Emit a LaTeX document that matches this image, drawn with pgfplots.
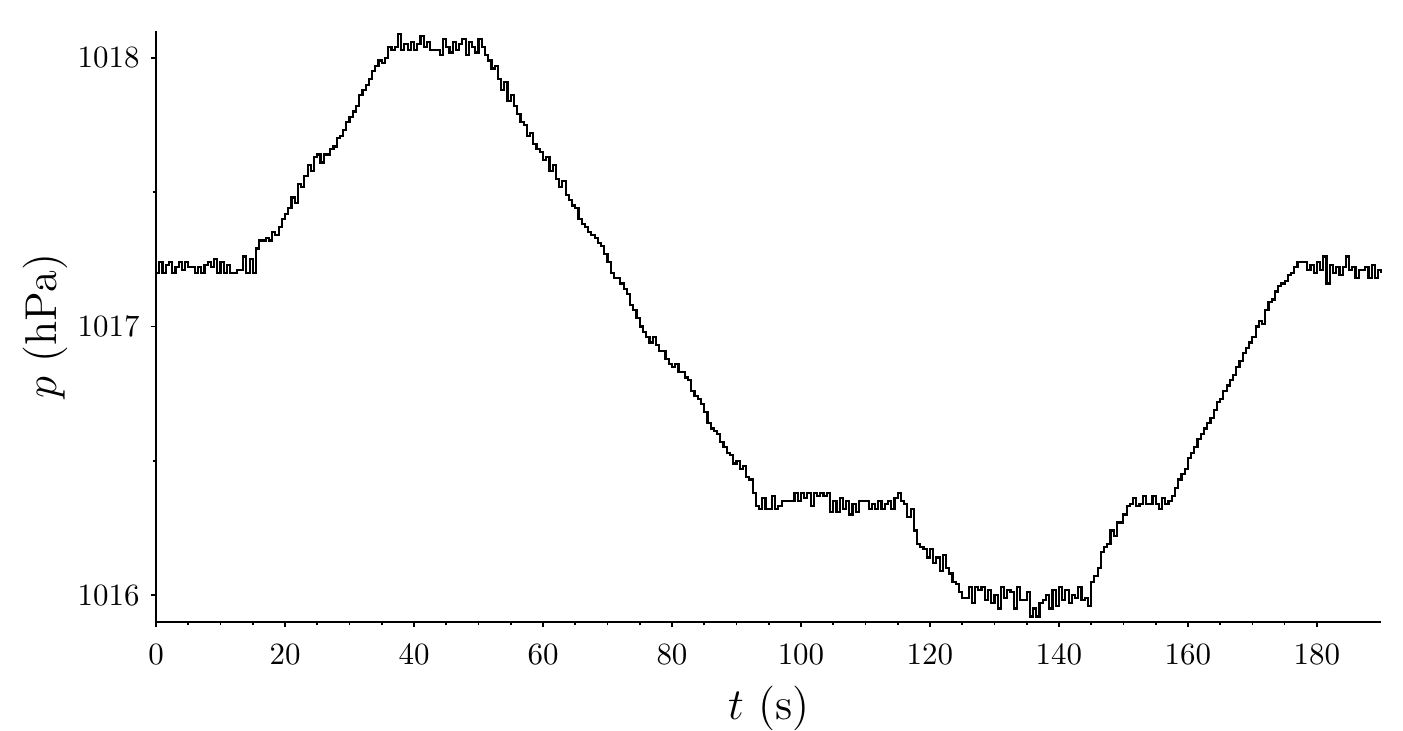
\documentclass[border=0pt]{standalone}
\usepackage{pgfplots}
\pgfplotsset{compat=1.18}
\begin{document}
\begin{tikzpicture}
\begin{axis}[
  scale only axis,
  width=396pt, height=191pt,
  xmin=0, xmax=190, ymin=1015.9, ymax=1018.1,
  axis x line*=bottom, axis y line*=left,
  axis line style={line width=0.55pt},
  tick align=outside,
  major tick length=1.8pt, minor tick length=1.1pt,
  every tick/.style={line width=0.55pt, black},
  xtick={0,20,...,180}, ytick={1016,1017,1018},
  minor x tick num=3, minor y tick num=1,
  yticklabel style={/pgf/number format/.cd, set thousands separator={}, fixed, precision=0},
  xticklabel style={yshift=-2pt},
  xlabel={\Large $t$ (s)}, ylabel={\Large $p$ (hPa)},
  xlabel style={inner sep=0pt, yshift=-3.3pt}, ylabel style={yshift=-3.5pt},
  clip=false,
]
\addplot[const plot, black, line width=0.7pt] coordinates {
(0,1017.20)(0.5,1017.24)(1.0,1017.20)(1.5,1017.23)(2.0,1017.24)(2.5,1017.20)(3.0,1017.22)(3.5,1017.24)(4.0,1017.21)(4.5,1017.24)
(5.0,1017.22)(5.5,1017.22)(6.0,1017.20)(6.5,1017.22)(7.0,1017.20)(7.5,1017.23)(8.0,1017.24)(8.5,1017.22)(9.0,1017.25)(9.5,1017.20)
(10.0,1017.24)(10.5,1017.20)(11.0,1017.23)(11.5,1017.20)(12.0,1017.20)(12.5,1017.21)(13.0,1017.21)(13.5,1017.26)(14.0,1017.20)(14.5,1017.25)
(15.0,1017.20)(15.5,1017.29)(16.0,1017.32)(16.5,1017.32)(17.0,1017.33)(17.5,1017.32)(18.0,1017.35)(18.5,1017.34)(19.0,1017.37)(19.5,1017.40)
(20.0,1017.42)(20.5,1017.44)(21.0,1017.48)(21.5,1017.46)(22.0,1017.53)(22.5,1017.52)(23.0,1017.56)(23.5,1017.60)(24.0,1017.58)(24.5,1017.63)
(25.0,1017.64)(25.5,1017.61)(26.0,1017.64)(26.5,1017.64)(27.0,1017.66)(27.5,1017.67)(28.0,1017.70)(28.5,1017.71)(29.0,1017.73)(29.5,1017.76)
(30.0,1017.78)(30.5,1017.80)(31.0,1017.82)(31.5,1017.86)(32.0,1017.88)(32.5,1017.90)(33.0,1017.92)(33.5,1017.95)(34.0,1017.97)(34.5,1017.99)
(35.0,1017.98)(35.5,1018.00)(36.0,1018.04)(36.5,1018.03)(37.0,1018.04)(37.5,1018.09)(38.0,1018.03)(38.5,1018.05)(39.0,1018.03)(39.5,1018.06)
(40.0,1018.03)(40.5,1018.05)(41.0,1018.08)(41.5,1018.04)(42.0,1018.06)(42.5,1018.03)(43.0,1018.03)(43.5,1018.03)(44.0,1018.01)(44.5,1018.07)
(45.0,1018.04)(45.5,1018.02)(46.0,1018.06)(46.5,1018.03)(47.0,1018.05)(47.5,1018.07)(48.0,1018.01)(48.5,1018.06)(49.0,1018.04)(49.5,1018.02)
(50.0,1018.07)(50.5,1018.04)(51.0,1018.01)(51.5,1017.99)(52.0,1017.96)(52.5,1017.97)(53.0,1017.92)(53.5,1017.88)(54.0,1017.91)(54.5,1017.84)
(55.0,1017.86)(55.5,1017.82)(56.0,1017.79)(56.5,1017.76)(57.0,1017.75)(57.5,1017.71)(58.0,1017.72)(58.5,1017.68)(59.0,1017.66)(59.5,1017.65)
(60.0,1017.62)(60.5,1017.63)(61.0,1017.58)(61.5,1017.60)(62.0,1017.55)(62.5,1017.52)(63.0,1017.54)(63.5,1017.49)(64.0,1017.47)(64.5,1017.45)
(65.0,1017.44)(65.5,1017.40)(66.0,1017.38)(66.5,1017.37)(67.0,1017.35)(67.5,1017.34)(68.0,1017.33)(68.5,1017.31)(69.0,1017.30)(69.5,1017.27)
(70.0,1017.24)(70.5,1017.20)(71.0,1017.18)(71.5,1017.18)(72.0,1017.16)(72.5,1017.14)(73.0,1017.12)(73.5,1017.08)(74.0,1017.06)(74.5,1017.03)
(75.0,1017.00)(75.5,1016.98)(76.0,1016.96)(76.5,1016.94)(77.0,1016.96)(77.5,1016.93)(78.0,1016.91)(78.5,1016.91)(79.0,1016.88)(79.5,1016.86)
(80.0,1016.85)(80.5,1016.86)(81.0,1016.83)(81.5,1016.83)(82.0,1016.81)(82.5,1016.80)(83.0,1016.76)(83.5,1016.74)(84.0,1016.73)(84.5,1016.71)
(85.0,1016.68)(85.5,1016.64)(86.0,1016.62)(86.5,1016.61)(87.0,1016.60)(87.5,1016.57)(88.0,1016.55)(88.5,1016.53)(89.0,1016.52)(89.5,1016.49)
(90.0,1016.50)(90.5,1016.47)(91.0,1016.48)(91.5,1016.44)(92.0,1016.43)(92.5,1016.38)(93.0,1016.33)(93.5,1016.32)(94.0,1016.36)(94.5,1016.32)
(95.0,1016.32)(95.5,1016.37)(96.0,1016.32)(96.5,1016.33)(97.0,1016.35)(97.5,1016.35)(98.0,1016.35)(98.5,1016.35)(99.0,1016.38)(99.5,1016.35)
(100.0,1016.38)(100.5,1016.36)(101.0,1016.38)(101.5,1016.33)(102.0,1016.38)(102.5,1016.37)(103.0,1016.38)(103.5,1016.37)(104.0,1016.38)(104.5,1016.31)
(105.0,1016.35)(105.5,1016.31)(106.0,1016.36)(106.5,1016.32)(107.0,1016.35)(107.5,1016.30)(108.0,1016.34)(108.5,1016.31)(109.0,1016.35)(109.5,1016.35)
(110.0,1016.35)(110.5,1016.32)(111.0,1016.34)(111.5,1016.32)(112.0,1016.35)(112.5,1016.32)(113.0,1016.34)(113.5,1016.35)(114.0,1016.32)(114.5,1016.36)
(115.0,1016.38)(115.5,1016.35)(116.0,1016.34)(116.5,1016.29)(117.0,1016.32)(117.5,1016.24)(118.0,1016.19)(118.5,1016.18)(119.0,1016.17)(119.5,1016.14)
(120.0,1016.17)(120.5,1016.12)(121.0,1016.14)(121.5,1016.09)(122.0,1016.15)(122.5,1016.10)(123.0,1016.08)(123.5,1016.05)(124.0,1016.04)(124.5,1016.01)
(125.0,1015.99)(125.5,1015.99)(126.0,1016.03)(126.5,1015.97)(127.0,1016.03)(127.5,1016.02)(128.0,1016.03)(128.5,1015.98)(129.0,1016.02)(129.5,1015.97)
(130.0,1016.00)(130.5,1015.95)(131.0,1016.03)(131.5,1015.99)(132.0,1016.02)(132.5,1016.01)(133.0,1015.95)(133.5,1016.03)(134.0,1015.98)(134.5,1015.98)
(135.0,1016.01)(135.5,1015.92)(136.0,1015.95)(136.5,1015.92)(137.0,1015.97)(137.5,1015.98)(138.0,1016.00)(138.5,1015.95)(139.0,1016.02)(139.5,1015.96)
(140.0,1016.03)(140.5,1015.98)(141.0,1016.02)(141.5,1015.97)(142.0,1016.00)(142.5,1015.99)(143.0,1016.03)(143.5,1015.98)(144.0,1015.99)(144.5,1015.96)
(145.0,1016.05)(145.5,1016.07)(146.0,1016.10)(146.5,1016.16)(147.0,1016.18)(147.5,1016.19)(148.0,1016.24)(148.5,1016.22)(149.0,1016.27)(149.5,1016.27)
(150.0,1016.30)(150.5,1016.33)(151.0,1016.34)(151.5,1016.36)(152.0,1016.33)(152.5,1016.34)(153.0,1016.37)(153.5,1016.34)(154.0,1016.34)(154.5,1016.37)
(155.0,1016.34)(155.5,1016.32)(156.0,1016.36)(156.5,1016.34)(157.0,1016.35)(157.5,1016.37)(158.0,1016.40)(158.5,1016.43)(159.0,1016.45)(159.5,1016.47)
(160.0,1016.51)(160.5,1016.53)(161.0,1016.55)(161.5,1016.58)(162.0,1016.60)(162.5,1016.62)(163.0,1016.64)(163.5,1016.66)(164.0,1016.69)(164.5,1016.72)
(165.0,1016.73)(165.5,1016.76)(166.0,1016.78)(166.5,1016.80)(167.0,1016.82)(167.5,1016.85)(168.0,1016.87)(168.5,1016.90)(169.0,1016.92)(169.5,1016.94)
(170.0,1016.96)(170.5,1017.00)(171.0,1017.02)(171.5,1017.01)(172.0,1017.06)(172.5,1017.09)(173.0,1017.10)(173.5,1017.13)(174.0,1017.15)(174.5,1017.16)
(175.0,1017.17)(175.5,1017.19)(176.0,1017.20)(176.5,1017.22)(177.0,1017.24)(177.5,1017.24)(178.0,1017.24)(178.5,1017.21)(179.0,1017.23)(179.5,1017.20)
(180.0,1017.24)(180.5,1017.21)(181.0,1017.26)(181.5,1017.16)(182.0,1017.23)(182.5,1017.20)(183.0,1017.22)(183.5,1017.19)(184.0,1017.22)(184.5,1017.26)
(185.0,1017.21)(185.5,1017.22)(186.0,1017.18)(186.5,1017.21)(187.0,1017.21)(187.5,1017.22)(188.0,1017.18)(188.5,1017.23)(189.0,1017.18)(189.5,1017.21)
(190.0,1017.20)
};
\end{axis}
\path ([shift={(7pt,10pt)}]current axis.north east);
\path ([xshift=-4pt]current axis.outer west);
\end{tikzpicture}
\end{document}
